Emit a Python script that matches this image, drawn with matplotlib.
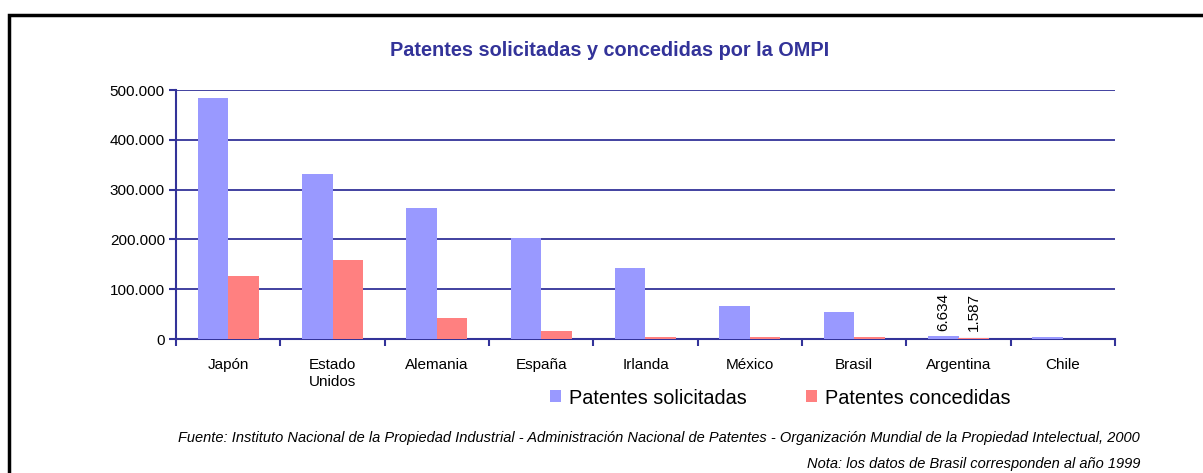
import matplotlib.pyplot as plt
import numpy as np
from matplotlib.patches import Rectangle
from matplotlib.ticker import FuncFormatter

plt.rcParams['font.family'] = ['Liberation Sans', 'DejaVu Sans']

paises = ['Japón', 'Estado\nUnidos', 'Alemania', 'España', 'Irlanda',
          'México', 'Brasil', 'Argentina', 'Chile']
solicitadas = [484000, 331500, 263000, 203000, 142500, 66000, 54000, 6634, 5000]
concedidas = [126500, 158500, 42000, 17000, 4000, 4000, 3500, 1587, 400]
etiquetas = {7: ('6.634', '1.587')}

azul = '#333399'
c_sol = '#9999FF'
c_con = '#FF8080'

fig = plt.figure(figsize=(12.03, 4.73), dpi=100)
ax = fig.add_axes([176 / 1203, 1 - 339 / 473, 939 / 1203, 249 / 473])

# marco negro del recuadro
fig.patches.append(Rectangle((9 / 1203, -0.1), 1.2, 1 - 15 / 473 + 0.1,
                             transform=fig.transFigure, fill=False,
                             edgecolor='black', linewidth=2.5))

x = np.arange(len(paises))
w = 0.293
ax.bar(x - w / 2, solicitadas, w, color=c_sol, label='Patentes solicitadas', zorder=3)
ax.bar(x + w / 2, concedidas, w, color=c_con, label='Patentes concedidas', zorder=3)

for i, (a, b) in etiquetas.items():
    ax.text(i - w / 2, solicitadas[i] + 10000, a, rotation=90, ha='center',
            va='bottom', fontsize=11)
    ax.text(i + w / 2, concedidas[i] + 15000, b, rotation=90, ha='center',
            va='bottom', fontsize=11)

ax.set_xlim(-0.5, len(paises) - 0.5)
ax.set_ylim(0, 500000)
ax.set_yticks(np.arange(0, 500001, 100000))
ax.yaxis.set_major_formatter(FuncFormatter(lambda v, p: f'{int(v):,}'.replace(',', '.')))
ax.set_xticks(np.arange(-0.5, len(paises)), minor=False)
ax.set_xticklabels([])
ax.set_xticks(x, minor=True)
ax.set_xticklabels(paises, minor=True, fontsize=11)
ax.tick_params(axis='x', which='minor', length=0, pad=14)
ax.tick_params(axis='x', which='major', length=5, color=azul, width=1.5, direction='out')
ax.tick_params(axis='y', length=5, color=azul, width=1.5, labelsize=11, pad=3)
for lab in ax.get_xticklabels(minor=True):
    lab.set_verticalalignment('top')
ax.grid(axis='y', color=azul, linewidth=1.3, zorder=0)
for s in ['top', 'right']:
    ax.spines[s].set_visible(False)
for s in ['left', 'bottom']:
    ax.spines[s].set_color(azul)
    ax.spines[s].set_linewidth(1.5)

fig.text(610 / 1203, 1 - 50 / 473, 'Patentes solicitadas y concedidas por la OMPI',
         ha='center', va='center', fontsize=14.3, fontweight='bold', color=azul)

fig.legend(loc='center', bbox_to_anchor=(780 / 1203, 1 - 398 / 473), ncol=2,
           frameon=False, fontsize=14.3, handlelength=0.55, handleheight=0.55,
           handletextpad=0.4, columnspacing=3.0)

fig.text(1140 / 1203, 1 - 438 / 473,
         'Fuente: Instituto Nacional de la Propiedad Industrial - Administración Nacional de Patentes - '
         'Organización Mundial de la Propiedad Intelectual, 2000',
         ha='right', va='center', fontsize=10.5, style='italic')
fig.text(1140 / 1203, 1 - 464 / 473, 'Nota: los datos de Brasil corresponden al año 1999',
         ha='right', va='center', fontsize=10.5, style='italic')

fig.savefig('out.png', dpi=100)
